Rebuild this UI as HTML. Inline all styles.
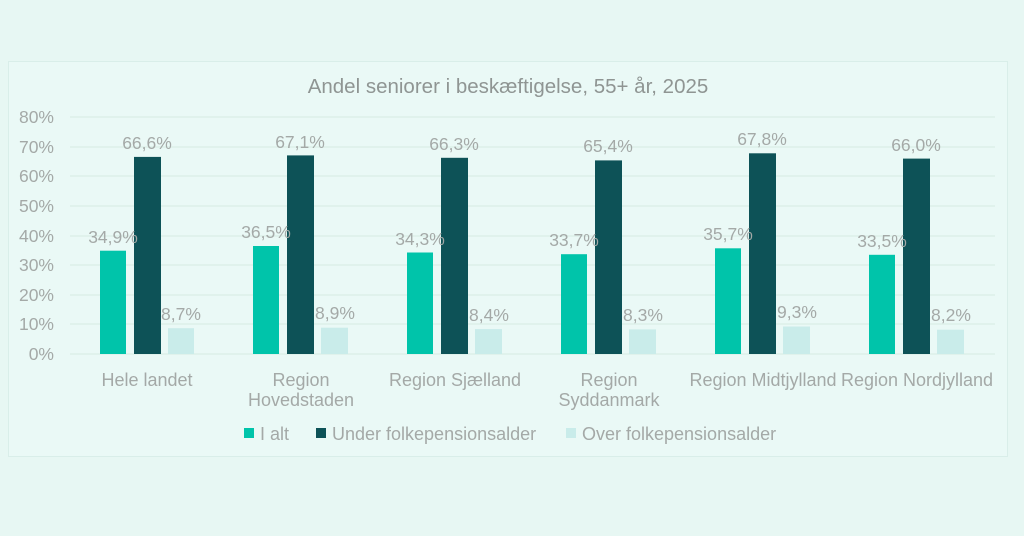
<!DOCTYPE html>
<html><head><meta charset="utf-8"><style>
body{margin:0;background:#e7f7f3;}
svg{display:block;font-family:"Liberation Sans",sans-serif;}
</style></head><body>
<svg width="1024" height="536" viewBox="0 0 1024 536">
<rect width="1024" height="536" fill="#e7f7f3"/>
<rect x="8.5" y="61.5" width="999" height="395" fill="#eaf9f6" stroke="#d9eee9"/>
<text x="508" y="93" font-size="20.5" fill="#8f9593" text-anchor="middle">Andel seniorer i beskæftigelse, 55+ år, 2025</text>
<g stroke="#dcefe9" stroke-width="1.5">
<line x1="70" x2="995" y1="117" y2="117"/><line x1="70" x2="995" y1="147" y2="147"/>
<line x1="70" x2="995" y1="176" y2="176"/><line x1="70" x2="995" y1="206" y2="206"/>
<line x1="70" x2="995" y1="236" y2="236"/><line x1="70" x2="995" y1="265" y2="265"/>
<line x1="70" x2="995" y1="295" y2="295"/><line x1="70" x2="995" y1="324" y2="324"/>
<line x1="70" x2="995" y1="354" y2="354"/>
</g>
<g font-size="17.5" fill="#a4a9a7" text-anchor="end">
<text x="54" y="123">80%</text><text x="54" y="153">70%</text><text x="54" y="182">60%</text>
<text x="54" y="212">50%</text><text x="54" y="242">40%</text><text x="54" y="271">30%</text>
<text x="54" y="301">20%</text><text x="54" y="330">10%</text><text x="54" y="360">0%</text>
</g>
<g font-size="17.5" fill="#a4a9a7" text-anchor="middle">
<rect x="100" y="250.7" width="26" height="103.3" fill="#00c4aa"/>
<rect x="134" y="156.9" width="27" height="197.1" fill="#0d5257"/>
<rect x="168" y="328.2" width="26" height="25.8" fill="#c9ecea"/>
<text x="113" y="243">34,9%</text><text x="147" y="149">66,6%</text><text x="181" y="320">8,7%</text>
<rect x="253" y="246" width="26" height="108" fill="#00c4aa"/>
<rect x="287" y="155.4" width="27" height="198.6" fill="#0d5257"/>
<rect x="321" y="327.7" width="27" height="26.3" fill="#c9ecea"/>
<text x="266" y="238">36,5%</text><text x="300" y="148">67,1%</text><text x="335" y="319">8,9%</text>
<rect x="407" y="252.5" width="26" height="101.5" fill="#00c4aa"/>
<rect x="441" y="157.8" width="27" height="196.2" fill="#0d5257"/>
<rect x="475" y="329.1" width="27" height="24.9" fill="#c9ecea"/>
<text x="420" y="245">34,3%</text><text x="454" y="150">66,3%</text><text x="489" y="321">8,4%</text>
<rect x="561" y="254.2" width="26" height="99.8" fill="#00c4aa"/>
<rect x="595" y="160.4" width="27" height="193.6" fill="#0d5257"/>
<rect x="629" y="329.4" width="27" height="24.6" fill="#c9ecea"/>
<text x="574" y="246">33,7%</text><text x="608" y="152">65,4%</text><text x="643" y="321">8,3%</text>
<rect x="715" y="248.3" width="26" height="105.7" fill="#00c4aa"/>
<rect x="749" y="153.3" width="27" height="200.7" fill="#0d5257"/>
<rect x="783" y="326.5" width="27" height="27.5" fill="#c9ecea"/>
<text x="728" y="240">35,7%</text><text x="762" y="145">67,8%</text><text x="797" y="318">9,3%</text>
<rect x="869" y="254.8" width="26" height="99.2" fill="#00c4aa"/>
<rect x="903" y="158.6" width="27" height="195.4" fill="#0d5257"/>
<rect x="937" y="329.7" width="27" height="24.3" fill="#c9ecea"/>
<text x="882" y="247">33,5%</text><text x="916" y="151">66,0%</text><text x="951" y="321">8,2%</text>
</g>
<g font-size="18" fill="#a4a9a7" text-anchor="middle">
<text x="147" y="386">Hele landet</text>
<text x="301" y="386">Region</text><text x="301" y="406">Hovedstaden</text>
<text x="455" y="386">Region Sjælland</text>
<text x="609" y="386">Region</text><text x="609" y="406">Syddanmark</text>
<text x="763" y="386">Region Midtjylland</text>
<text x="917" y="386">Region Nordjylland</text>
</g>
<g font-size="18" fill="#a4a9a7">
<rect x="244" y="428" width="10" height="10" fill="#00c4aa"/><text x="260" y="440">I alt</text>
<rect x="316" y="428" width="10" height="10" fill="#0d5257"/><text x="332" y="440">Under folkepensionsalder</text>
<rect x="566" y="428" width="10" height="10" fill="#c9ecea"/><text x="582" y="440">Over folkepensionsalder</text>
</g>
</svg>
</body></html>
